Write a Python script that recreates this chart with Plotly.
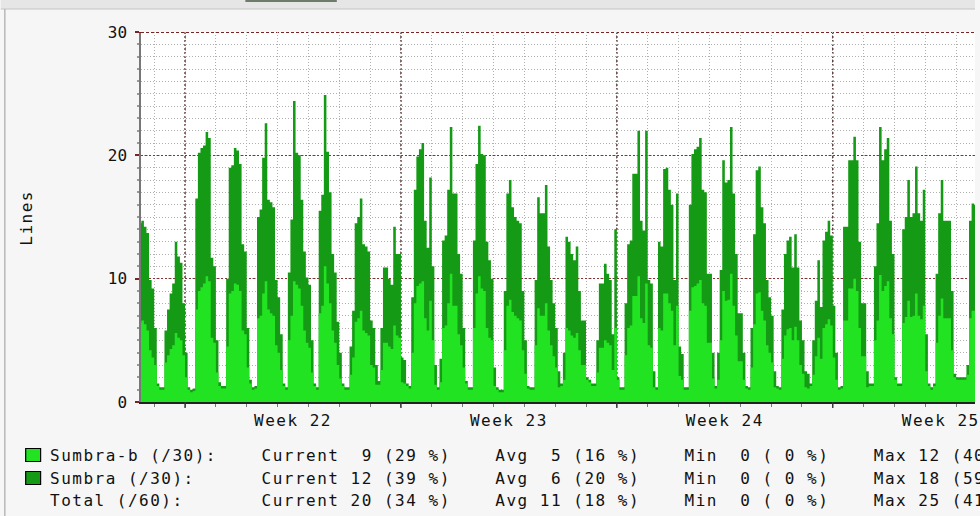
import numpy as np
import plotly.graph_objects as go

# ---------------- data ----------------
# x axis: days since Monday 00:00 of Week 22; one sample every 2 hours
sample_start_day = -1.5          # Saturday 12:00 before Week 22
sample_step_hours = 2

# total lines in use (Sumbra-b + Sumbra), one row per day (12 two-hour samples)
total_lines = [
    14.5, 14.7, 14.2, 13.7, 9.9, 9.2,                                   # Sat (from 12h)
    6.0, 1.5, 1.2, 1.2, 5.8, 7.5, 8.8, 9.6, 13.0, 11.8, 11.3, 8.0,      # Sun
    4.0, 1.2, 1.0, 1.1, 16.5, 20.2, 20.6, 20.8, 21.9, 21.4, 11.7, 11.0,  # Mon W22
    5.0, 1.6, 1.3, 1.3, 10.0, 19.0, 19.2, 20.6, 20.4, 19.3, 12.8, 12.2,  # Tue
    6.0, 1.8, 1.2, 1.3, 15.0, 15.6, 19.8, 22.6, 16.4, 16.2, 15.8, 9.9,   # Wed
    8.5, 5.5, 1.5, 1.2, 10.5, 14.8, 24.4, 20.2, 20.0, 16.4, 12.2, 10.1,  # Thu
    9.5, 5.0, 1.5, 1.2, 15.5, 16.8, 24.9, 20.3, 17.0, 12.0, 10.5, 6.5,   # Fri
    4.0, 1.5, 1.2, 1.2, 4.5, 7.4, 14.5, 15.0, 16.5, 12.8, 12.6, 12.2,    # Sat
    6.6, 6.0, 3.0, 1.7, 6.0, 10.9, 10.9, 10.0, 9.5, 14.2, 12.0, 12.0,    # Sun
    3.6, 3.4, 1.5, 1.3, 8.5, 17.2, 19.9, 20.5, 21.0, 14.7, 12.5, 18.2,   # Mon W23
    11.0, 3.0, 1.2, 3.5, 13.1, 13.5, 17.2, 22.3, 16.9, 16.9, 12.0, 10.4, # Tue
    6.0, 1.7, 1.2, 1.2, 13.1, 19.3, 22.4, 20.1, 20.0, 13.0, 11.5, 10.0,  # Wed
    2.8, 1.2, 1.0, 1.0, 9.0, 16.9, 18.0, 15.8, 15.0, 14.7, 14.5, 9.0,    # Thu
    5.0, 1.3, 1.2, 1.2, 9.9, 16.6, 15.3, 15.3, 17.6, 12.6, 9.9, 8.0,     # Fri
    6.0, 2.5, 1.5, 4.0, 13.4, 13.0, 12.0, 11.5, 12.6, 9.0, 6.6, 6.6,     # Sat
    2.0, 1.8, 1.5, 1.5, 5.0, 9.6, 9.6, 11.2, 10.4, 9.9, 5.5, 14.0,       # Sun
    2.0, 1.2, 1.2, 8.0, 12.8, 13.1, 18.5, 18.5, 22.0, 14.7, 13.9, 22.0,  # Mon W24
    9.9, 9.6, 2.5, 1.2, 13.0, 12.6, 18.9, 19.0, 17.2, 16.0, 9.9, 16.9,   # Tue
    4.5, 3.9, 1.2, 1.2, 16.0, 20.1, 20.5, 20.7, 21.4, 17.2, 17.0, 10.4,  # Wed
    10.4, 4.0, 1.3, 4.0, 10.7, 19.6, 17.8, 18.0, 22.3, 16.9, 12.0, 7.2,  # Thu
    7.2, 4.0, 1.3, 1.2, 6.0, 13.6, 18.8, 19.1, 15.8, 14.5, 9.9, 8.5,     # Fri
    7.0, 2.5, 1.3, 1.2, 7.5, 12.0, 13.1, 13.4, 10.9, 13.6, 10.9, 6.6,    # Sat
    5.0, 2.5, 2.3, 1.5, 5.0, 8.2, 11.5, 7.7, 13.1, 13.8, 14.7, 13.5,     # Sun
    7.8, 4.0, 1.2, 1.3, 14.2, 14.2, 19.6, 19.6, 21.5, 19.6, 13.0, 8.0,   # Mon W25
    8.0, 2.5, 1.5, 1.5, 11.0, 14.5, 22.3, 19.6, 20.5, 21.4, 14.7, 12.0,  # Tue
    2.0, 1.5, 1.5, 14.0, 15.0, 18.0, 15.0, 15.3, 19.1, 15.3, 14.7, 17.2, # Wed
    5.5, 1.5, 1.2, 1.5, 10.4, 15.3, 18.0, 14.7, 14.7, 14.7, 9.0, 2.3,    # Thu
    2.0, 2.0, 2.0, 2.0, 3.0, 14.7, 16.1, 16.0, 16.0,                    # Fri (to 16h)
]

# Sumbra-b lines in use (lower, light green layer)
sumbra_b_lines = [
    6.4, 6.6, 6.3, 5.8, 4.2, 3.6,
    3.0, 1.3, 1.0, 1.0, 3.2, 3.8, 4.3, 4.6, 5.6, 5.2, 5.0, 3.8,
    2.0, 1.0, 0.8, 0.9, 7.5, 9.0, 9.3, 9.6, 10.2, 9.8, 5.2, 4.8,
    2.4, 1.3, 1.1, 1.1, 4.5, 8.8, 9.0, 9.6, 9.5, 9.0, 5.8, 5.5,
    2.8, 1.5, 1.0, 1.1, 6.8, 7.0, 8.8, 9.8, 7.5, 7.2, 7.0, 4.6,
    4.0, 2.6, 1.3, 1.0, 5.0, 7.0, 9.8, 9.5, 9.2, 7.8, 5.8, 4.8,
    4.4, 2.4, 1.3, 1.0, 7.2, 7.8, 11.0, 9.6, 8.0, 5.8, 4.8, 3.0,
    1.9, 1.3, 1.0, 1.0, 2.2, 3.6, 6.5, 6.8, 7.4, 5.8, 5.6, 5.4,
    3.0, 2.8, 1.4, 1.4, 2.6, 4.8, 4.8, 4.5, 4.3, 6.2, 5.4, 5.2,
    1.6, 1.5, 1.3, 1.1, 4.0, 8.0, 9.4, 9.6, 9.8, 6.8, 5.8, 8.2,
    5.0, 1.4, 1.0, 1.6, 6.0, 6.2, 8.0, 10.4, 7.8, 7.8, 5.5, 4.6,
    2.8, 1.5, 1.0, 1.0, 6.0, 8.8, 10.2, 9.2, 9.0, 6.0, 5.2, 5.0,
    1.3, 1.0, 0.8, 0.8, 4.2, 7.8, 8.3, 7.3, 7.0, 6.8, 6.6, 4.2,
    2.3, 1.1, 1.0, 1.0, 4.6, 7.6, 7.0, 7.0, 8.0, 5.8, 4.6, 3.7,
    2.8, 1.2, 1.3, 1.8, 6.0, 5.8, 5.4, 5.2, 5.6, 4.2, 3.0, 3.0,
    1.8, 1.6, 1.3, 1.3, 2.4, 4.4, 4.4, 5.0, 4.8, 4.6, 2.6, 6.0,
    1.8, 1.0, 1.0, 3.8, 6.0, 6.2, 8.6, 8.6, 10.2, 6.8, 6.4, 9.6,
    4.6, 4.4, 1.2, 1.0, 6.0, 5.8, 8.8, 8.8, 8.0, 7.4, 4.6, 7.8,
    2.1, 1.8, 1.0, 1.0, 7.4, 9.3, 9.4, 9.6, 9.9, 8.0, 7.8, 4.8,
    4.8, 1.9, 1.1, 1.8, 5.0, 9.0, 8.2, 8.3, 10.4, 7.8, 5.4, 3.3,
    3.3, 1.8, 1.1, 1.0, 2.8, 6.3, 8.8, 8.9, 7.4, 6.6, 4.6, 4.0,
    3.2, 1.2, 1.1, 1.0, 3.5, 5.4, 5.9, 6.0, 5.0, 6.1, 5.0, 3.0,
    2.3, 1.2, 1.1, 1.3, 2.2, 3.7, 5.2, 3.5, 6.0, 6.3, 6.7, 6.2,
    3.6, 1.8, 1.0, 1.1, 6.6, 6.6, 9.2, 9.2, 10.0, 9.0, 6.0, 3.7,
    3.7, 1.2, 1.3, 1.3, 5.0, 6.6, 10.3, 9.0, 9.4, 9.8, 6.8, 5.5,
    1.8, 1.3, 1.3, 6.4, 6.9, 8.2, 6.9, 7.0, 8.8, 7.0, 6.7, 7.8,
    2.5, 1.3, 1.0, 1.3, 4.8, 7.0, 8.4, 6.8, 6.8, 6.8, 4.2, 2.0,
    1.8, 1.8, 1.8, 1.8, 2.2, 6.8, 7.4, 7.4, 7.4,
]

week_starts = [0, 7, 14, 21]
week_mids = [3.5, 10.5, 17.5, 24.5]
week_labels = ["Week 22", "Week 23", "Week 24", "Week 25"]
y_ticks = [0, 10, 20, 30]
y_tick_labels = ["0", "10", "20", "30"]

legend_names = ["Sumbra-b (/30):", "Sumbra (/30):", "Total (/60):"]
stat_current = [9, 12, 20]
stat_current_pct = [29, 39, 34]
stat_avg = [5, 6, 11]
stat_avg_pct = [16, 20, 18]
stat_min = [0, 0, 0]
stat_min_pct = [0, 0, 0]
stat_max = [12, 18, 25]
stat_max_pct = [40, 59, 41]

# ---------------- style ----------------
LIGHT = "#22e322"
DARK = "#149a14"
MONO = "DejaVu Sans Mono"
LS = 1.5  # letter spacing px

def spaced(s):
    return '<span style="letter-spacing:%spx">%s</span>' % (LS, s.replace(" ", "\u00a0"))

t = sample_start_day + np.arange(len(total_lines)) * sample_step_hours / 24.0

fig = go.Figure()
fig.add_trace(go.Scatter(
    x=t, y=total_lines, name="Sumbra", mode="lines", line=dict(width=0, shape="hv", color=DARK),
    fill="tozeroy", fillcolor=DARK, showlegend=False, hoverinfo="skip"))
fig.add_trace(go.Scatter(
    x=t, y=sumbra_b_lines, name="Sumbra-b", mode="lines", line=dict(width=0, shape="hv", color=LIGHT),
    fill="tozeroy", fillcolor=LIGHT, showlegend=False, hoverinfo="skip"))

W, H = 980, 516
ML, MR, MT, MB = 141, 0, 32, 114
PW, PH = W - ML - MR, H - MT - MB

def px(xp):
    return (xp - ML) / PW

def py(yp):
    return (H - MB - yp) / PH

shapes = []
# week (major) vertical grid lines
for ws in week_starts:
    shapes.append(dict(type="line", xref="x", yref="paper", x0=ws, x1=ws, y0=0, y1=1,
                       line=dict(color="#5a3030", width=1.4, dash="2px,2px"), layer="between"))
    shapes.append(dict(type="line", xref="x", yref="paper", x0=ws, x1=ws, y0=py(408), y1=0,
                       line=dict(color="#333", width=1.4)))
# top line at 30
shapes.append(dict(type="line", xref="paper", yref="y", x0=0, x1=1, y0=30, y1=30,
                   line=dict(color="#7a2424", width=2, dash="3px,2px"), layer="between"))
shapes.append(dict(type="line", xref="paper", yref="y", x0=px(136), x1=0, y0=30, y1=30,
                   line=dict(color="#7a2424", width=2)))
# page decoration: top band, left border
shapes.append(dict(type="rect", xref="paper", yref="paper", x0=px(0), x1=px(W), y0=py(9), y1=py(0),
                   fillcolor="#e6e6e6", line=dict(width=0)))
shapes.append(dict(type="line", xref="paper", yref="paper", x0=px(0), x1=px(W), y0=py(9), y1=py(9),
                   line=dict(color="#c4c4c4", width=1)))
shapes.append(dict(type="rect", xref="paper", yref="paper", x0=px(246), x1=px(338), y0=py(2), y1=py(0),
                   fillcolor="#6c7d6c", line=dict(width=0)))
shapes.append(dict(type="line", xref="paper", yref="paper", x0=px(4), x1=px(4), y0=py(H), y1=py(9),
                   line=dict(color="#b8b8b8", width=1.5)))
# legend squares
for i, col in enumerate([LIGHT, DARK]):
    yc = 455 + i * 23
    shapes.append(dict(type="rect", xref="paper", yref="paper", x0=px(25), x1=px(40),
                       y0=py(yc + 6.5), y1=py(yc - 6.5), fillcolor=col,
                       line=dict(color="#000", width=1.2)))

annotations = []
annotations.append(dict(xref="paper", yref="paper", x=px(25), y=py(218), text=spaced("Lines"),
                        textangle=-90, showarrow=False, xanchor="center", yanchor="middle",
                        font=dict(family=MONO, size=16, color="#111"), borderpad=0))
for i in range(3):
    row = "%-19sCurrent %2d (%2d %%)    Avg %2d (%2d %%)    Min %2d (%2d %%)    Max %2d (%2d %%)" % (
        legend_names[i], stat_current[i], stat_current_pct[i], stat_avg[i], stat_avg_pct[i],
        stat_min[i], stat_min_pct[i], stat_max[i], stat_max_pct[i])
    annotations.append(dict(xref="paper", yref="paper", x=px(49), y=py(455.5 + i * 22.5),
                            text=spaced(row), showarrow=False, xanchor="left", yanchor="middle",
                            align="left", font=dict(family=MONO, size=16, color="#111"),
                            borderpad=0, borderwidth=0))

fig.update_layout(
    width=W, height=H, margin=dict(l=ML, r=MR, t=MT, b=MB, pad=0),
    paper_bgcolor="#f6f6f6", plot_bgcolor="#ffffff",
    showlegend=False, shapes=shapes, annotations=annotations,
    xaxis=dict(range=[(ML - 185.3) / 31.03, (W - MR - 185.3) / 31.03],
               tickmode="array", tickvals=week_mids, ticktext=[spaced(s) for s in week_labels],
               ticks="", showgrid=False, zeroline=False, showline=True, linecolor="#222", linewidth=1.5,
               tickfont=dict(family=MONO, size=16, color="#111"), ticklabelstandoff=3,
               ticklabeloverflow="allow",
               minor=dict(tickmode="linear", tick0=0, dtick=1, showgrid=True, gridcolor="#b0b0b0",
                          griddash="1px,2px", gridwidth=1, ticks="outside", ticklen=3, tickcolor="#777"),
               fixedrange=True),
    yaxis=dict(range=[0, 30], tickmode="array", tickvals=y_ticks, ticktext=y_tick_labels,
               ticks="outside", ticklen=4, tickcolor="#7a2424", tickwidth=1.5,
               showgrid=True, gridcolor="#8b3030", griddash="2px,2px", gridwidth=1.3,
               zeroline=False, showline=True, linecolor="#777", linewidth=1.5,
               tickfont=dict(family=MONO, size=16, color="#111"), ticklabelstandoff=5,
               minor=dict(tickmode="linear", tick0=0, dtick=1, showgrid=True, gridcolor="#b0b0b0",
                          griddash="1px,2px", gridwidth=1, ticks="outside", ticklen=2, tickcolor="#999"),
               fixedrange=True),
)

fig.write_html("out.html", config={"displayModeBar": False},
               post_script="document.body.style.margin='0px';")
